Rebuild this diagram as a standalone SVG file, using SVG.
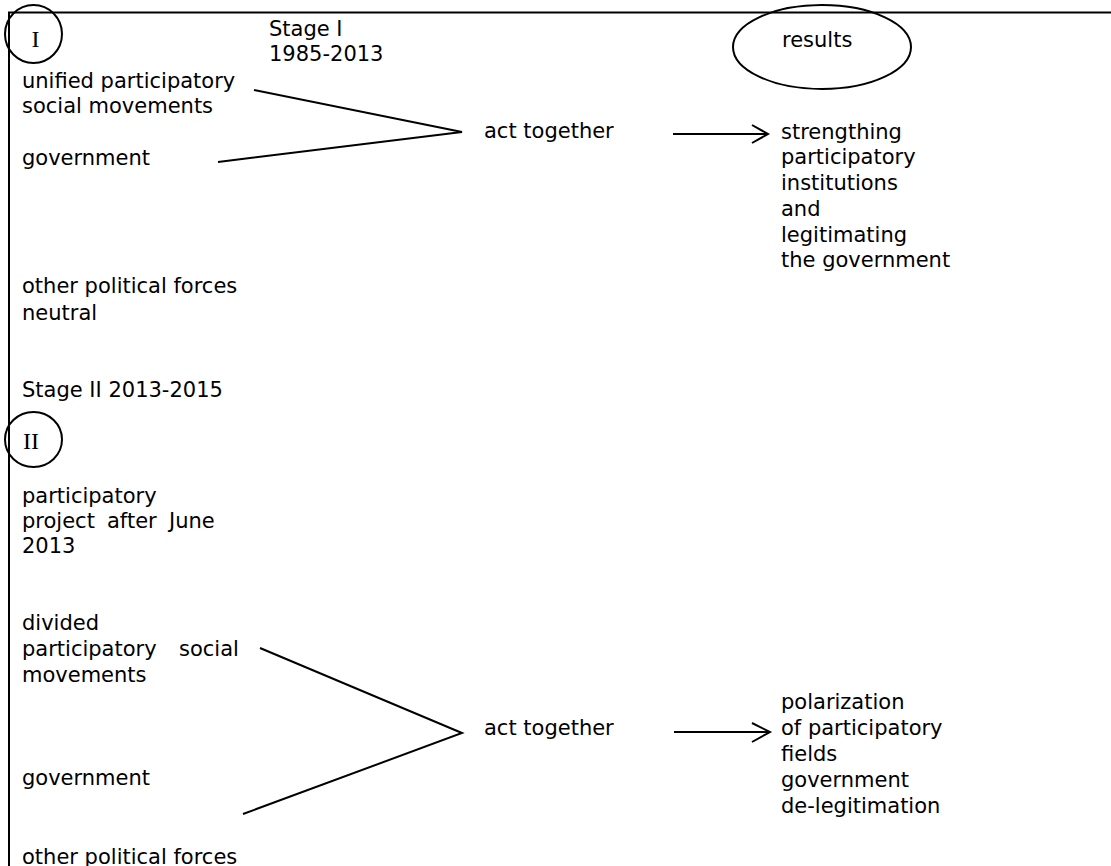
<svg xmlns="http://www.w3.org/2000/svg" width="1111" height="866" viewBox="0 0 1111 866">
<style>
text{font-family:"DejaVu Sans",Verdana,sans-serif;font-size:21px;fill:#000}
.rn{font-family:"Liberation Serif","Times New Roman",serif;font-size:24px}
.s{fill:none;stroke:#000;stroke-width:2}
</style>
<rect width="1111" height="866" fill="#fff"/>
<g id="frame" class="s"><path d="M8 12.5H1111M9 12V866"/></g>
<g id="stage1-label"><text x="269" y="36">Stage I</text><text x="269" y="61">1985-2013</text></g>
<g id="circle-I"><ellipse class="s" cx="33.5" cy="34" rx="28.5" ry="29"/><text class="rn" x="31.5" y="47">I</text></g>
<g id="results"><ellipse class="s" cx="822" cy="47" rx="89" ry="42"/><text x="782" y="47">results</text></g>
<g id="unified"><text x="22" y="88">unified participatory</text><text x="22" y="113">social movements</text></g>
<g id="government1"><text x="22" y="165">government</text></g>
<g id="act1"><text x="484" y="138">act together</text></g>
<g id="result1"><text x="781" y="139">strengthing</text><text x="781" y="164">participatory</text><text x="781" y="190">institutions</text><text x="781" y="216">and</text><text x="781" y="242">legitimating</text><text x="781" y="267">the government</text></g>
<g id="other1"><text x="22" y="293">other political forces</text><text x="22" y="320">neutral</text></g>
<g id="stage2-label"><text x="22" y="397">Stage II 2013-2015</text></g>
<g id="circle-II"><ellipse class="s" cx="33.5" cy="439.5" rx="28.5" ry="27.5"/><text class="rn" x="23" y="449">II</text></g>
<g id="project"><text x="22" y="503">participatory</text><text y="528"><tspan x="22">project</tspan><tspan x="107">after</tspan><tspan x="169">June</tspan></text><text x="22" y="553">2013</text></g>
<g id="divided"><text x="22" y="630">divided</text><text y="656"><tspan x="22">participatory</tspan><tspan x="179">social</tspan></text><text x="22" y="682">movements</text></g>
<g id="government2"><text x="22" y="785">government</text></g>
<g id="act2"><text x="484" y="735">act together</text></g>
<g id="result2"><text x="781" y="709">polarization</text><text x="781" y="735">of participatory</text><text x="781" y="761">fields</text><text x="781" y="787">government</text><text x="781" y="813">de-legitimation</text></g>
<g id="other2"><text x="22" y="864">other political forces</text></g>
<g id="connectors" class="s">
<path d="M254 90L462 132L218 162"/>
<path d="M673 134H767M752 125L768 134L752 143"/>
<path d="M260 648L462 733L243 814"/>
<path d="M674 732H769M752 723L770 732L752 742"/>
</g>
</svg>
